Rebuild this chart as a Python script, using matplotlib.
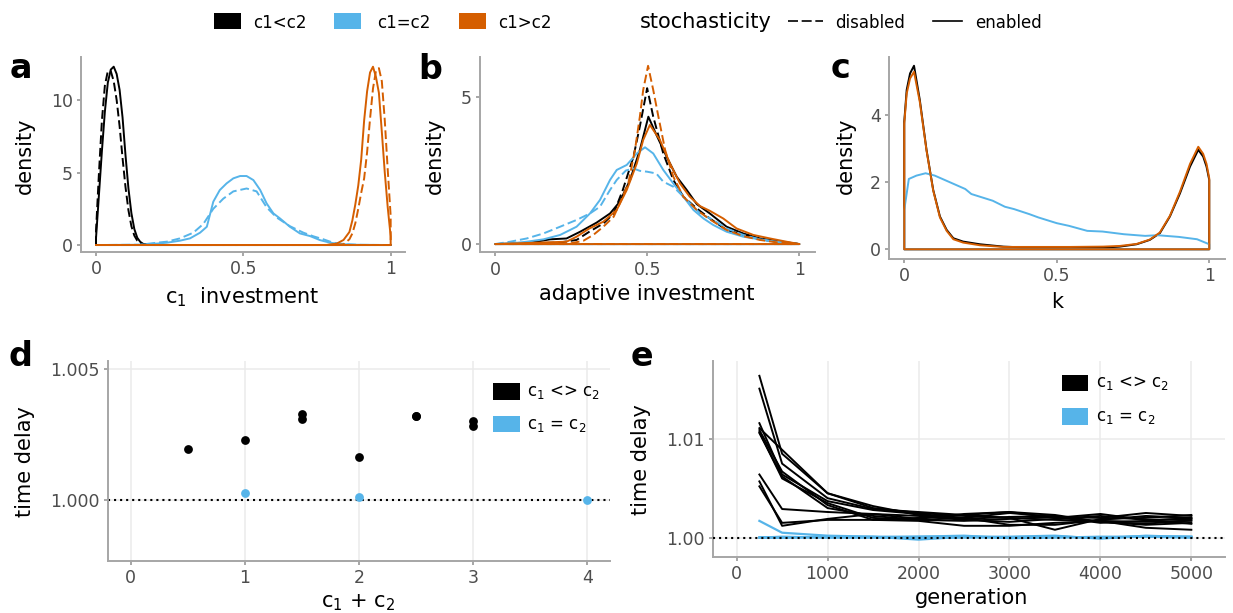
import numpy as np
import matplotlib
matplotlib.use("Agg")
import matplotlib.pyplot as plt
from matplotlib.patches import Rectangle
from matplotlib.lines import Line2D

plt.rcParams['font.family'] = ['DejaVu Sans']
plt.rcParams['mathtext.fontset'] = 'dejavusans'

# ---------------- data ----------------
groups = ['c1<c2', 'c1=c2', 'c1>c2']
group_colors = ['#000000', '#56B4E9', '#D55E00']
stoch_labels = ['disabled', 'enabled']

# panel a : c1 investment densities
a_x_blk_dis = [0, 0.01, 0.02, 0.03, 0.04, 0.05, 0.06, 0.07, 0.08, 0.09, 0.10, 0.11, 0.12, 0.13, 0.14, 0.15, 0.16, 0.18, 0.2, 1.0]
a_y_blk_dis = [1.0, 5.0, 8.6, 11.0, 12.0, 12.0, 11.3, 10.0, 8.2, 6.0, 4.0, 2.4, 1.3, 0.65, 0.3, 0.12, 0.05, 0.01, 0, 0]
a_x_blk_en = [0, 0.01, 0.02, 0.03, 0.04, 0.05, 0.06, 0.07, 0.08, 0.09, 0.10, 0.11, 0.12, 0.13, 0.14, 0.15, 0.16, 0.18, 0.2, 1.0]
a_y_blk_en = [0.5, 3.5, 6.5, 9.2, 11.2, 12.1, 12.3, 11.8, 10.7, 8.8, 6.2, 3.9, 2.2, 1.1, 0.5, 0.22, 0.08, 0.02, 0, 0]
a_x_blu_dis = [0, 0.15, 0.206, 0.24, 0.285, 0.33, 0.364, 0.398, 0.432, 0.466, 0.511, 0.545, 0.579, 0.613, 0.658, 0.704, 0.738, 0.771, 0.805, 0.85, 0.9, 1.0]
a_y_blu_dis = [0, 0.02, 0.16, 0.23, 0.46, 0.85, 1.45, 2.5, 3.2, 3.7, 3.9, 3.7, 2.6, 1.9, 1.3, 0.85, 0.6, 0.4, 0.16, 0.05, 0.01, 0]
a_x_blu_en = [0, 0.15, 0.206, 0.24, 0.285, 0.319, 0.353, 0.376, 0.398, 0.42, 0.443, 0.466, 0.489, 0.511, 0.534, 0.557, 0.579, 0.602, 0.624, 0.658, 0.692, 0.726, 0.76, 0.794, 0.828, 0.88, 1.0]
a_y_blu_en = [0, 0.02, 0.1, 0.16, 0.3, 0.46, 0.85, 1.26, 2.99, 3.79, 4.25, 4.6, 4.76, 4.76, 4.48, 3.8, 2.87, 2.18, 1.84, 1.26, 0.8, 0.62, 0.34, 0.16, 0.07, 0.02, 0]
a_x_org_dis = [0, 0.8, 0.84, 0.86, 0.87, 0.88, 0.89, 0.90, 0.91, 0.92, 0.93, 0.94, 0.95, 0.96, 0.97, 0.98, 0.99, 1.0]
a_y_org_dis = [0, 0, 0.05, 0.4, 0.8, 1.5, 2.5, 3.6, 4.6, 6.4, 8.7, 10.8, 12.0, 12.2, 11.3, 8.6, 5.2, 2.0]
a_x_org_en = [0, 0.78, 0.817, 0.84, 0.86, 0.87, 0.88, 0.89, 0.90, 0.91, 0.92, 0.93, 0.94, 0.95, 0.96, 0.97, 0.98, 0.99, 1.0]
a_y_org_en = [0, 0, 0.1, 0.35, 0.9, 1.7, 2.8, 4.1, 5.9, 8.6, 10.6, 11.9, 12.3, 11.6, 10.5, 7.8, 5.0, 2.6, 0.6]

# panel b : adaptive investment densities
b_x_blk_dis = [0, 0.21, 0.268, 0.31, 0.356, 0.39, 0.42, 0.455, 0.476, 0.50, 0.52, 0.553, 0.586, 0.619, 0.663, 0.706, 0.761, 0.816, 0.871, 0.925, 1.0]
b_y_blk_dis = [0, 0.05, 0.14, 0.42, 0.7, 1.04, 1.84, 2.97, 4.0, 5.3, 4.33, 3.08, 2.18, 1.61, 1.21, 0.87, 0.48, 0.31, 0.16, 0.08, 0]
b_x_blk_en = [0, 0.1, 0.137, 0.18, 0.235, 0.28, 0.334, 0.378, 0.41, 0.444, 0.476, 0.504, 0.531, 0.564, 0.597, 0.63, 0.663, 0.706, 0.761, 0.816, 0.871, 0.925, 1.0]
b_y_blk_en = [0, 0.03, 0.08, 0.16, 0.19, 0.42, 0.73, 1.04, 1.44, 2.18, 3.2, 4.33, 3.7, 2.97, 2.29, 1.84, 1.36, 1.04, 0.59, 0.36, 0.19, 0.11, 0]
b_x_blu_dis = [0, 0.05, 0.104, 0.159, 0.214, 0.268, 0.312, 0.345, 0.378, 0.40, 0.43, 0.455, 0.476, 0.50, 0.53, 0.553, 0.586, 0.63, 0.674, 0.717, 0.761, 0.816, 0.871, 0.925, 1.0]
b_y_blu_dis = [0, 0.08, 0.19, 0.36, 0.59, 0.82, 1.04, 1.27, 1.84, 2.18, 2.5, 2.57, 2.49, 2.46, 2.4, 2.12, 1.95, 1.5, 1.04, 0.82, 0.53, 0.31, 0.16, 0.07, 0]
b_x_blu_en = [0, 0.05, 0.104, 0.159, 0.214, 0.268, 0.312, 0.345, 0.378, 0.40, 0.433, 0.466, 0.493, 0.52, 0.553, 0.586, 0.619, 0.652, 0.685, 0.717, 0.761, 0.816, 0.871, 0.925, 1.0]
b_y_blu_en = [0, 0.02, 0.08, 0.16, 0.31, 0.59, 1.04, 1.5, 2.18, 2.52, 2.69, 3.08, 3.29, 3.08, 2.52, 2.06, 1.61, 1.16, 0.87, 0.65, 0.42, 0.25, 0.16, 0.08, 0]
b_x_org_dis = [0, 0.246, 0.29, 0.323, 0.356, 0.39, 0.41, 0.438, 0.46, 0.476, 0.487, 0.503, 0.52, 0.537, 0.559, 0.586, 0.619, 0.663, 0.706, 0.761, 0.816, 0.871, 0.925, 1.0]
b_y_org_dis = [0, 0.02, 0.11, 0.31, 0.59, 0.93, 1.38, 2.06, 3.2, 4.33, 5.24, 6.06, 5.24, 4.33, 3.2, 2.29, 1.61, 1.16, 0.84, 0.48, 0.27, 0.14, 0.06, 0]
b_x_org_en = [0, 0.235, 0.268, 0.31, 0.356, 0.40, 0.433, 0.466, 0.487, 0.509, 0.542, 0.575, 0.608, 0.64, 0.674, 0.706, 0.75, 0.794, 0.849, 0.904, 0.958, 1.0]
b_y_org_en = [0, 0.08, 0.25, 0.53, 0.76, 1.16, 1.84, 2.74, 3.54, 4.05, 3.54, 2.74, 2.06, 1.61, 1.29, 1.13, 0.87, 0.53, 0.31, 0.19, 0.08, 0]

# panel c : k densities (stochasticity enabled)
c_x_blk = [0, 0.008, 0.019, 0.032, 0.051, 0.073, 0.095, 0.117, 0.139, 0.161, 0.193, 0.248, 0.325, 0.434, 0.543, 0.652, 0.707, 0.762, 0.805, 0.838, 0.871, 0.904, 0.937, 0.964, 0.98, 0.991, 1.0]
c_y_blk = [3.81, 4.76, 5.25, 5.48, 4.46, 2.97, 1.77, 0.98, 0.58, 0.33, 0.23, 0.15, 0.08, 0.04, 0.04, 0.05, 0.08, 0.15, 0.28, 0.48, 0.98, 1.67, 2.47, 2.97, 2.77, 2.47, 2.07]
c_x_blu = [0, 0.015, 0.04, 0.07, 0.10, 0.15, 0.20, 0.22, 0.29, 0.33, 0.36, 0.41, 0.44, 0.50, 0.54, 0.60, 0.65, 0.72, 0.79, 0.83, 0.90, 0.96, 1.0]
c_y_blu = [1.17, 2.1, 2.2, 2.27, 2.2, 2.0, 1.8, 1.65, 1.45, 1.27, 1.2, 1.05, 0.95, 0.78, 0.7, 0.55, 0.53, 0.45, 0.4, 0.42, 0.37, 0.3, 0.15]
c_x_org = [0, 0.008, 0.019, 0.032, 0.051, 0.073, 0.095, 0.117, 0.139, 0.161, 0.193, 0.248, 0.325, 0.434, 0.543, 0.652, 0.707, 0.762, 0.805, 0.838, 0.871, 0.904, 0.937, 0.964, 0.98, 0.991, 1.0]
c_y_org = [3.75, 4.65, 5.1, 5.3, 4.4, 2.95, 1.75, 0.95, 0.55, 0.3, 0.2, 0.12, 0.07, 0.07, 0.07, 0.08, 0.1, 0.16, 0.29, 0.5, 1.0, 1.72, 2.55, 3.06, 2.85, 2.55, 2.12]

# panel d : time delay vs c1 + c2
d_sum_unequal = [0.5, 1, 1.5, 1.5, 2, 2.5, 2.5, 3, 3]
d_delay_unequal = [1.00195, 1.00231, 1.00329, 1.00308, 1.00166, 1.00322, 1.00320, 1.00302, 1.00284]
d_sum_equal = [1, 2, 4]
d_delay_equal = [1.00027, 1.00014, 1.00000]

# panel e : time delay over generations
e_generation = [250, 500, 1000, 1500, 2000, 2500, 3000, 3500, 4000, 4500, 5000]
e_unequal_runs = [
    [1.0164, 1.0085, 1.0045, 1.0030, 1.0025, 1.0022, 1.0020, 1.0018, 1.0017, 1.0016, 1.0017],
    [1.0151, 1.0075, 1.0040, 1.0029, 1.0026, 1.0023, 1.0026, 1.0020, 1.0024, 1.0018, 1.0019],
    [1.0116, 1.0064, 1.0037, 1.0028, 1.0024, 1.0020, 1.0013, 1.0013, 1.0018, 1.0022, 1.0020],
    [1.0111, 1.0089, 1.0045, 1.0032, 1.0023, 1.0019, 1.0021, 1.0022, 1.0016, 1.0013, 1.0015],
    [1.0109, 1.0067, 1.0033, 1.0018, 1.0020, 1.0023, 1.0020, 1.0008, 1.0019, 1.0020, 1.0023],
    [1.0106, 1.0062, 1.0030, 1.0022, 1.0018, 1.0020, 1.0025, 1.0021, 1.0015, 1.0017, 1.0020],
    [1.0107, 1.0060, 1.0035, 1.0020, 1.0018, 1.0017, 1.0019, 1.0021, 1.0020, 1.0025, 1.0022],
    [1.0064, 1.0029, 1.0026, 1.0024, 1.0022, 1.0018, 1.0016, 1.0019, 1.0022, 1.0018, 1.0014],
    [1.0057, 1.0012, 1.0019, 1.0024, 1.0019, 1.0024, 1.0026, 1.0023, 1.0016, 1.0014, 1.0018],
    [1.0052, 1.0015, 1.0018, 1.0018, 1.0017, 1.0012, 1.0012, 1.0015, 1.0017, 1.0010, 1.0008],
]
e_equal_runs = [
    [1.0017, 1.0005, 1.0002, 1.0001, 1.0001, 1.0001, 1.0000, 1.0001, 1.0000, 1.0001, 1.0001],
    [1.0000, 1.0000, 1.00005, 1.0001, 0.9998, 1.0001, 1.0001, 1.0002, 0.9999, 1.0002, 1.00005],
    [1.0000, 1.0001, 1.0000, 1.0000, 1.0001, 1.0002, 0.99995, 1.0000, 1.0001, 1.0001, 1.0000],
    [1.00005, 1.0000, 1.0001, 1.00005, 1.0000, 1.0000, 1.00005, 1.0001, 1.0000, 1.00015, 1.0001],
]

# ticks
a_xticks = [0, 0.5, 1]; a_xticklabels = ['0', '0.5', '1']
a_yticks = [0, 5, 10]
b_yticks = [0, 5]
c_yticks = [0, 2, 4]
d_xticks = [0, 1, 2, 3, 4]
d_yticks = [1.000, 1.005]; d_yticklabels = ['1.000', '1.005']
e_xticks = [0, 1000, 2000, 3000, 4000, 5000]
e_yticks = [1.00, 1.01]; e_yticklabels = ['1.00', '1.01']

# ---------------- figure ----------------
W, H = 1233, 613
fig = plt.figure(figsize=(W / 100, H / 100), dpi=100)

AX_COL = '#a6a6a6'
TICK_TXT = '#4d4d4d'
DASH = (0, (4.5, 2))
LW = 1.4
DOT = (0, (1, 1.9))


def fx(px):
    return px / W


def fy(py):
    return 1 - py / H


def add_ax(left, top, right, bottom):
    return fig.add_axes([fx(left), fy(bottom), (right - left) / W, (bottom - top) / H])


def style(ax, grid=False):
    for s in ['top', 'right']:
        ax.spines[s].set_visible(False)
    for s in ['left', 'bottom']:
        ax.spines[s].set_color(AX_COL)
        ax.spines[s].set_linewidth(1.4)
    ax.tick_params(colors=AX_COL, labelcolor=TICK_TXT, labelsize=12.5,
                   length=3, width=1.4, pad=3)
    if grid:
        ax.grid(True, color='#ebebeb', lw=1.1)
        ax.set_axisbelow(True)


def outline(ax, x, y, color, ls):
    xs = np.concatenate([[x[0]], x, [x[-1]]])
    ys = np.concatenate([[0], y, [0]])
    ax.fill(xs, ys, facecolor='none', edgecolor=color, linestyle=ls,
            linewidth=LW, joinstyle='round')


# panel a
axa = add_ax(81.3, 56.7, 405.4, 251.7)
style(axa)
a_series = [(a_x_blk_dis, a_y_blk_dis, 0, DASH), (a_x_blk_en, a_y_blk_en, 0, '-'),
            (a_x_blu_dis, a_y_blu_dis, 1, DASH), (a_x_blu_en, a_y_blu_en, 1, '-'),
            (a_x_org_dis, a_y_org_dis, 2, DASH), (a_x_org_en, a_y_org_en, 2, '-')]
for x, y, g, ls in a_series:
    outline(axa, x, y, group_colors[g], ls)
axa.set_xlim(-0.05, 1.05)
axa.set_ylim(-0.46, 12.99)
axa.set_xticks(a_xticks, a_xticklabels)
axa.set_yticks(a_yticks)

# panel b
axb = add_ax(479.8, 56.7, 814.5, 252.3)
style(axb)
b_series = [(b_x_blk_dis, b_y_blk_dis, 0, DASH), (b_x_blk_en, b_y_blk_en, 0, '-'),
            (b_x_blu_dis, b_y_blu_dis, 1, DASH), (b_x_blu_en, b_y_blu_en, 1, '-'),
            (b_x_org_dis, b_y_org_dis, 2, DASH), (b_x_org_en, b_y_org_en, 2, '-')]
for x, y, g, ls in b_series:
    outline(axb, x, y, group_colors[g], ls)
axb.set_xlim(-0.05, 1.05)
axb.set_ylim(-0.28, 6.37)
axb.set_xticks(a_xticks, a_xticklabels)
axb.set_yticks(b_yticks)

# panel c
axc = add_ax(889.0, 56.7, 1224.5, 259.0)
style(axc)
for x, y, g in [(c_x_blk, c_y_blk, 0), (c_x_blu, c_y_blu, 1), (c_x_org, c_y_org, 2)]:
    outline(axc, x, y, group_colors[g], '-')
axc.set_xlim(-0.05, 1.05)
axc.set_ylim(-0.29, 5.75)
axc.set_xticks(a_xticks, a_xticklabels)
axc.set_yticks(c_yticks)

# panel d
axd = add_ax(108, 361, 610, 561)
style(axd, grid=True)
axd.axhline(1.0, color='black', lw=1.5, linestyle=DOT, zorder=2)
axd.scatter(d_sum_unequal, d_delay_unequal, s=40, color=group_colors[0], zorder=3, linewidths=0)
axd.scatter(d_sum_equal, d_delay_equal, s=40, color=group_colors[1], zorder=3, linewidths=0)
axd.set_xlim(-0.2, 4.2)
axd.set_ylim(0.99769, 1.0053)
axd.set_xticks(d_xticks)
axd.set_yticks(d_yticks, d_yticklabels)

# panel e
axe = add_ax(713, 361, 1225, 557)
style(axe, grid=True)
for run in e_unequal_runs:
    axe.plot(e_generation, run, color=group_colors[0], lw=1.4, zorder=2)
for run in e_equal_runs:
    axe.plot(e_generation, run, color=group_colors[1], lw=1.6, zorder=2)
axe.axhline(1.0, color='black', lw=1.5, linestyle=DOT, zorder=3)
axe.set_xlim(-260, 5370)
axe.set_ylim(0.99804, 1.0179)
axe.set_xticks(e_xticks)
axe.set_yticks(e_yticks, e_yticklabels)

# axis titles
TS = 15
fig.text(fx(25), fy(155.6), 'density', rotation=90, ha='center', va='center', fontsize=TS)
fig.text(fx(435), fy(155.6), 'density', rotation=90, ha='center', va='center', fontsize=TS)
fig.text(fx(845.5), fy(155.6), 'density', rotation=90, ha='center', va='center', fontsize=TS)
fig.text(fx(25), fy(461.7), 'time delay', rotation=90, ha='center', va='center', fontsize=TS)
fig.text(fx(641), fy(460), 'time delay', rotation=90, ha='center', va='center', fontsize=TS)
fig.text(fx(242), fy(303), r'c$_1$  investment', ha='center', va='baseline', fontsize=TS)
fig.text(fx(646.7), fy(300.5), 'adaptive investment', ha='center', va='baseline', fontsize=TS)
fig.text(fx(1056.7), fy(308), 'k', ha='center', va='baseline', fontsize=TS)
fig.text(fx(358), fy(607.5), r'c$_1$ + c$_2$', ha='center', va='baseline', fontsize=TS)
fig.text(fx(972), fy(604), 'generation', ha='center', va='baseline', fontsize=TS)

# panel letters
for letter, px, py in [('a', 10, 77.5), ('b', 418.5, 79), ('c', 831, 77.5), ('d', 8.5, 366), ('e', 630.5, 366.5)]:
    fig.text(fx(px), fy(py), letter, fontsize=24, fontweight='bold', ha='left', va='baseline')

# top legend
key_x = [214.3, 334.3, 459.3]
txt_x = [253.3, 376.7, 497.7]
for g in range(3):
    fig.add_artist(Rectangle((fx(key_x[g]), fy(29)), 26.4 / W, 16.3 / H, transform=fig.transFigure,
                             facecolor=group_colors[g], edgecolor='none'))
    fig.text(fx(txt_x[g]), fy(28.3), groups[g], fontsize=12, ha='left', va='baseline')
fig.text(fx(640), fy(28.3), 'stochasticity', fontsize=15, ha='left', va='baseline')
fig.add_artist(Line2D([fx(788.3), fx(823.3)], [fy(21), fy(21)], transform=fig.transFigure,
                      color='black', lw=1.2, linestyle=(0, (6, 2.2))))
fig.add_artist(Line2D([fx(933.3), fx(961.7)], [fy(21), fy(21)], transform=fig.transFigure,
                      color='black', lw=1.2))
fig.text(fx(835), fy(28.3), stoch_labels[0], fontsize=12, ha='left', va='baseline')
fig.text(fx(975), fy(28.3), stoch_labels[1], fontsize=12, ha='left', va='baseline')

# panel legends (d, e)
leg_labels = [r'c$_1$ <> c$_2$', r'c$_1$ = c$_2$']
for kx, tx, ky in [(493.3, 527.3, [383.3, 416.0]), (1061.7, 1096, [375.0, 408.3])]:
    for i in range(2):
        fig.add_artist(Rectangle((fx(kx), fy(ky[i] + 16.3)), 26.4 / W, 16.3 / H,
                                 transform=fig.transFigure, facecolor=group_colors[i], edgecolor='none'))
        fig.text(fx(tx), fy(ky[i] + 8.5), leg_labels[i], fontsize=12, ha='left', va='center')

fig.savefig('out.png', dpi=100)
